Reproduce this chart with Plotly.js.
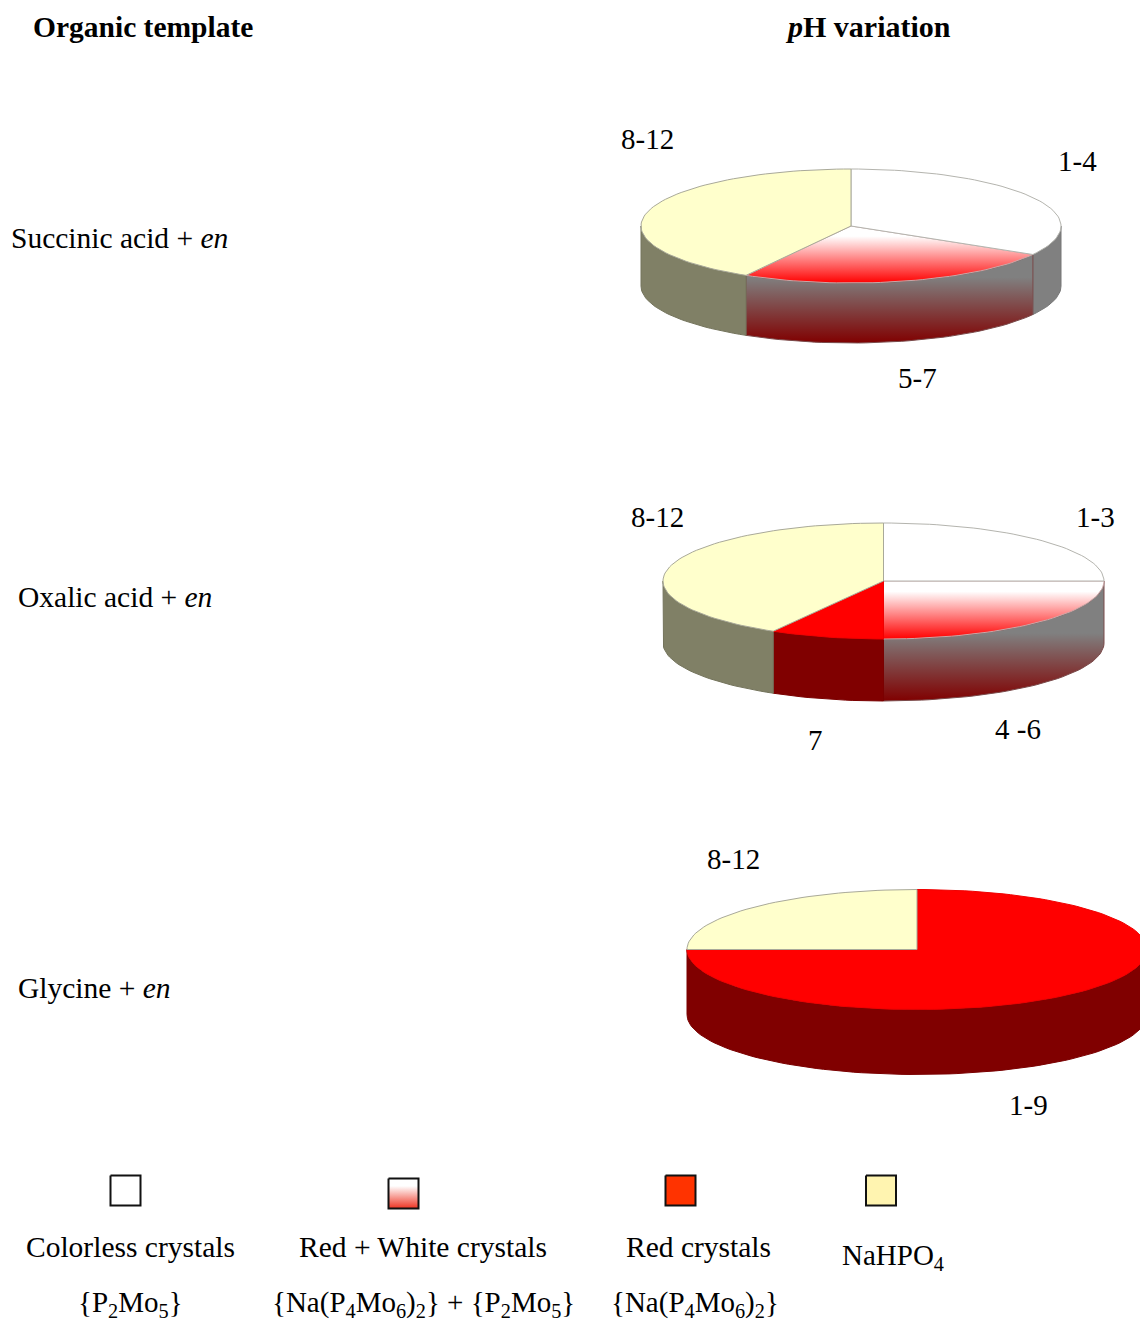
<!DOCTYPE html>
<html>
<head>
<meta charset="utf-8">
<script src="https://cdn.plot.ly/plotly-3.0.1.min.js"></script>
<style>html,body{margin:0;padding:0;background:#fff;overflow:hidden}#chart{width:1140px;height:1323px}</style>
</head>
<body>
<div id="chart"></div>
<script>
// Number of pH units covered by each crystallisation product
const succinicRanges = ["1-4", "5-7", "8-12"];
const succinicUnits = [4, 3, 5];
const succinicProducts = ["colorless", "mixed", "phosphate"];

const oxalicRanges = ["1-3", "4 -6", "7", "8-12"];
const oxalicUnits = [3, 3, 1, 5];
const oxalicProducts = ["colorless", "mixed", "red", "phosphate"];

const glycineRanges = ["1-9", "8-12"];
const glycineUnits = [9, 3];
const glycineProducts = ["red", "phosphate"];

// Disc geometry on the page-sized axes
const discs = [
  {units: succinicUnits, products: succinicProducts, ranges: succinicRanges, cx: 851, cy: 226, rx: 210, ry: 57, depth: 60},
  {units: oxalicUnits, products: oxalicProducts, ranges: oxalicRanges, cx: 883.5, cy: 581, rx: 220.5, ry: 58, depth: 62},
  {units: glycineUnits, products: glycineProducts, ranges: glycineRanges, cx: 917, cy: 949.5, rx: 230, ry: 60, depth: 65}
];

const topStyle = {
  colorless: {fill: "#ffffff", line: "#b4b4ae"},
  phosphate: {fill: "#ffffcc", line: "#a9a999"},
  red: {fill: "#ff0000", line: "#f00000"},
  mixed: {gradient: [[0, "#ffffff"], [0.18, "#ffffff"], [1, "#ff0000"]], line: "#c9a8a8"}
};
const sideStyle = {
  colorless: {fill: "#808080", line: "#767676"},
  phosphate: {fill: "#808066", line: "#74745c"},
  red: {fill: "#800000", line: "#7a0000"},
  mixed: {gradient: [[0, "#808080"], [1, "#800000"]], line: "#7a4a4a"}
};
const drawOrder = ["mixed", "colorless", "red", "phosphate"];

const traces = [];

function polygon(xs, ys, style, name, band) {
  const trace = {
    type: "scatter", mode: "lines", x: xs, y: ys, fill: "toself",
    line: {color: style.line, width: 1}, name: name, hoverinfo: "name", showlegend: false
  };
  if (style.gradient) {
    trace.fillcolor = style.gradient[style.gradient.length - 1][1];
    trace.fillgradient = {type: "vertical", start: band[0], stop: band[1], colorscale: style.gradient};
  } else {
    trace.fillcolor = style.fill;
  }
  return trace;
}

// Angles run clockwise from twelve o'clock, in degrees
function rimPoint(d, deg, drop) {
  const a = deg * Math.PI / 180;
  return [d.cx + d.rx * Math.sin(a), d.cy - d.ry * Math.cos(a) + drop];
}

function arc(d, from, to, drop) {
  const pts = [];
  const steps = Math.max(2, Math.ceil(Math.abs(to - from) / 2));
  for (let i = 0; i <= steps; i++) pts.push(rimPoint(d, from + (to - from) * i / steps, drop));
  return pts;
}

discs.forEach(d => {
  const total = d.units.reduce((s, v) => s + v, 0);
  let start = 0;
  const slices = d.units.map((v, i) => {
    const sweep = v / total * 360;
    const s = {from: start, to: start + sweep, product: d.products[i], range: d.ranges[i]};
    start += sweep;
    return s;
  });

  // Outer wall: only the part facing the viewer (90 to 270 degrees)
  slices.forEach(s => {
    const a = Math.max(s.from, 90), b = Math.min(s.to, 270);
    if (b <= a) return;
    const pts = arc(d, a, b, 0).concat(arc(d, b, a, d.depth));
    pts.push(pts[0]);
    traces.push(polygon(pts.map(p => p[0]), pts.map(p => p[1]), sideStyle[s.product],
      "pH " + s.range, [d.cy + d.ry * 0.9, d.cy + d.ry + d.depth]));
  });

  // Top face, painted so the pale slices' outlines stay visible
  drawOrder.forEach(product => {
    slices.filter(s => s.product === product).forEach(s => {
      const pts = [[d.cx, d.cy]].concat(arc(d, s.from, s.to, 0));
      pts.push([d.cx, d.cy]);
      traces.push(polygon(pts.map(p => p[0]), pts.map(p => p[1]), topStyle[product],
        "pH " + s.range, [d.cy, d.cy + d.ry]));
    });
  });
});

// Key swatches
const keySwatches = [
  {x: 110.5, y: 1175.5, fill: "#ffffff"},
  {x: 388.5, y: 1178.5, gradient: [[0, "#ffffff"], [0.25, "#ffffff"], [1, "#ee3322"]]},
  {x: 665.5, y: 1175.5, fill: "#ff3300"},
  {x: 866, y: 1175.5, fill: "#fff4b0"}
];
const swatchSize = 30;
keySwatches.forEach(k => {
  const xs = [k.x, k.x + swatchSize, k.x + swatchSize, k.x, k.x];
  const ys = [k.y, k.y, k.y + swatchSize, k.y + swatchSize, k.y];
  const t = polygon(xs, ys, {fill: k.fill, gradient: k.gradient, line: "#111111"}, "key", [k.y, k.y + swatchSize]);
  t.line.width = 2;
  t.hoverinfo = "skip";
  traces.push(t);
});

const serif = '"Liberation Serif", "Times New Roman", serif';
function label(text, x, y, anchor, size) {
  return {
    text: text, x: x, y: y, xref: "x", yref: "y", xanchor: anchor || "center", yanchor: "middle",
    showarrow: false, font: {family: serif, size: size || 29, color: "#000000"}
  };
}

const annotations = [
  label("<b>Organic template</b>", 31, 27, "left", 29.5),
  label("<b><i>p</i>H variation</b>", 783, 26, "left", 30),
  label("Succinic acid + <i>en</i>", 9, 238, "left", 29.5),
  label("Oxalic acid + <i>en</i>", 16, 597, "left", 29.5),
  label("Glycine + <i>en</i>", 16, 988, "left", 29.5),
  label(succinicRanges[2], 647, 139),
  label(succinicRanges[0], 1077, 161),
  label(succinicRanges[1], 917, 378),
  label(oxalicRanges[3], 657, 517),
  label(oxalicRanges[0], 1095, 517),
  label(oxalicRanges[1], 1018, 729),
  label(oxalicRanges[2], 815, 740),
  label(glycineRanges[1], 733, 859),
  label(glycineRanges[0], 1028, 1105),
  label("Colorless crystals", 130, 1247, "center", 29.5),
  label("{P<sub>2</sub>Mo<sub>5</sub>}", 130, 1304),
  label("Red + White crystals", 423, 1247, "center", 29.5),
  label("{Na(P<sub>4</sub>Mo<sub>6</sub>)<sub>2</sub>} + {P<sub>2</sub>Mo<sub>5</sub>}", 423, 1304),
  label("Red crystals", 698, 1247, "center", 29.5),
  label("{Na(P<sub>4</sub>Mo<sub>6</sub>)<sub>2</sub>}", 695, 1304),
  label("NaHPO<sub>4</sub>", 893, 1257)
];

const layout = {
  width: 1140, height: 1323,
  margin: {l: 0, r: 0, t: 0, b: 0},
  paper_bgcolor: "#ffffff", plot_bgcolor: "#ffffff",
  showlegend: false,
  xaxis: {range: [0, 1140], visible: false, fixedrange: true},
  yaxis: {range: [1323, 0], visible: false, fixedrange: true},
  annotations: annotations
};

Plotly.newPlot("chart", traces, layout, {displayModeBar: false});
</script>
</body>
</html>
